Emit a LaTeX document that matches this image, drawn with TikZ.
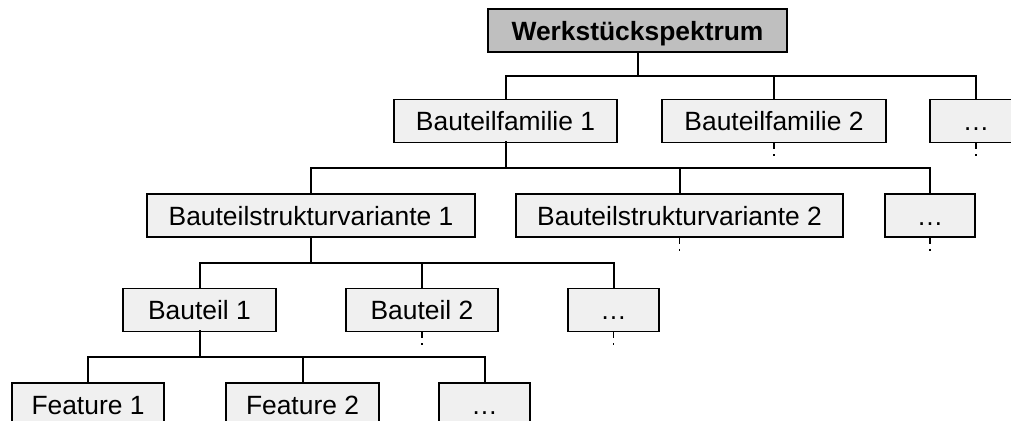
\documentclass[tikz,border=0pt]{standalone}
\usepackage{fontspec}
\setmainfont{Liberation Sans}
\begin{document}
\begin{tikzpicture}[x=0.5pt,y=-0.5pt,
  box/.style={draw=black,line width=0.8pt,fill=boxfill,inner sep=0pt,outer sep=0pt,
    minimum height=21.5pt,text height=10pt,text depth=0pt,
    font=\fontsize{13.2}{15}\selectfont},
  rootbox/.style={box,fill=rootfill,font=\fontsize{13.2}{15}\selectfont\bfseries},
  link/.style={line width=1pt,line cap=rect},
  stub/.style={line width=0.7pt,dash pattern=on 3.5pt off 2.5pt on 1pt off 20pt}]
\definecolor{boxfill}{RGB}{240,240,240}
\definecolor{rootfill}{RGB}{191,191,191}
\useasboundingbox (0,0) rectangle (1011,421);
\clip (0,0) rectangle (1011,421);

% tree levels
\node[rootbox,minimum width=149.5pt] (root) at (637.5,30.5) {Werkstückspektrum};

\node[box,minimum width=111.5pt] (bf1) at (505.5,121) {Bauteilfamilie 1};
\node[box,minimum width=112pt]   (bf2) at (774,121)   {Bauteilfamilie 2};
\node[box,minimum width=46pt]    (bfx) at (976,121)   {…};

\node[box,minimum width=164pt]   (bsv1) at (311,215.5)   {Bauteilstrukturvariante 1};
\node[box,minimum width=163.5pt] (bsv2) at (679.5,215.5) {Bauteilstrukturvariante 2};
\node[box,minimum width=45pt]    (bsvx) at (930,215.5)   {…};

\node[box,minimum width=76.5pt] (bt1) at (199.5,310) {Bauteil 1};
\node[box,minimum width=76pt]   (bt2) at (422,310)   {Bauteil 2};
\node[box,minimum width=45.5pt] (btx) at (613.5,310) {…};

\node[box,minimum width=76pt]   (f1) at (88,404.5)    {Feature 1};
\node[box,minimum width=76.5pt] (f2) at (302.5,404.5) {Feature 2};
\node[box,minimum width=45.5pt] (fx) at (484.5,404.5) {…};

% bus heights
\coordinate (busA) at (0,76);
\coordinate (busB) at (0,168);
\coordinate (busC) at (0,263);
\coordinate (busD) at (0,357);

% connectors
\draw[link] (root.south) -- (root.south |- busA);
\draw[link] (bf1.north) -- (bf1.north |- busA) -- (bfx.north |- busA) -- (bfx.north);
\draw[link] (bf2.north) -- (bf2.north |- busA);

\draw[link] (bf1.south) -- (bf1.south |- busB);
\draw[link] (bsv1.north) -- (bsv1.north |- busB) -- (bsvx.north |- busB) -- (bsvx.north);
\draw[link] (bsv2.north) -- (bsv2.north |- busB);

\draw[link] (bsv1.south) -- (bsv1.south |- busC);
\draw[link] (bt1.north) -- (bt1.north |- busC) -- (btx.north |- busC) -- (btx.north);
\draw[link] (bt2.north) -- (bt2.north |- busC);

\draw[link] (bt1.south) -- (bt1.south |- busD);
\draw[link] (f1.north) -- (f1.north |- busD) -- (fx.north |- busD) -- (fx.north);
\draw[link] (f2.north) -- (f2.north |- busD);

% continuation marks
\foreach \n in {bf2,bfx,bsv2,bsvx,bt2,btx}
  \draw[stub] (\n.south) -- ++(0,16);
\end{tikzpicture}
\end{document}
